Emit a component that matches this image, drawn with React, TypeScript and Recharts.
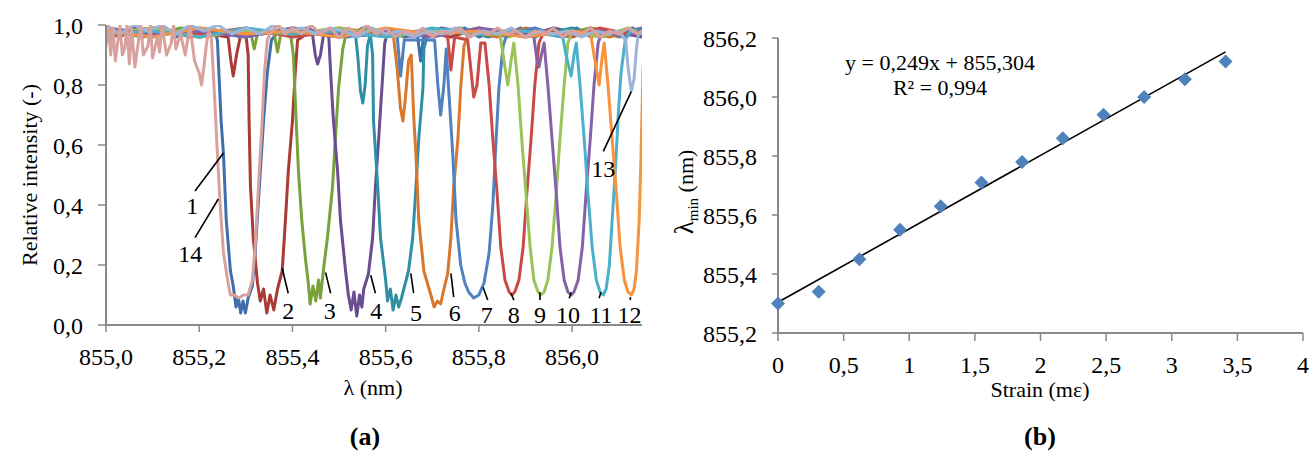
import React from 'react';
import {
  LineChart, Line, XAxis, YAxis, ReferenceLine, ReferenceDot,
  ComposedChart, Scatter,
} from 'recharts';

const FONT = "'Liberation Serif', 'Times New Roman', Times, serif";
const AXIS = '#898989';

// ---- panel (a): spectra, [wavelength nm, relative intensity]
const c1: number[][] = [
  [855.0, 0.98], [855.03, 0.96], [855.06, 0.99], [855.09, 0.97], [855.12, 1.0], [855.15, 0.96], [855.18, 0.98], [855.21, 0.97], [855.232, 0.98],
  [855.239, 0.95], [855.247, 0.68], [855.252, 0.57], [855.258, 0.35], [855.267, 0.18], [855.273, 0.13], [855.279, 0.06], [855.284, 0.09], [855.289, 0.04],
  [855.294, 0.08], [855.299, 0.04], [855.305, 0.09], [855.314, 0.13], [855.32, 0.24], [855.329, 0.46], [855.338, 0.68], [855.346, 0.84], [855.355, 0.95],
  [855.37, 0.98], [855.4, 0.96], [855.43, 0.99], [855.46, 0.97], [855.49, 0.98], [855.52, 0.96], [855.55, 0.99], [855.58, 0.97], [855.61, 0.98],
  [855.64, 0.96], [855.668, 0.97], [855.675, 0.88], [855.682, 0.97], [855.71, 0.98], [855.74, 0.97], [855.77, 0.99], [855.8, 0.96], [855.83, 0.98],
  [855.86, 0.97], [855.89, 0.99], [855.92, 0.96], [855.95, 0.98], [855.98, 0.97], [856.01, 0.99], [856.04, 0.96], [856.07, 0.98], [856.1, 0.97], [856.13, 0.99], [856.15, 0.97],
];
const c2: number[][] = [
  [855.0, 0.99], [855.06, 0.97], [855.12, 0.99], [855.18, 0.96], [855.22, 0.97], [855.262, 0.96], [855.268, 0.88], [855.273, 0.83], [855.28, 0.9],
  [855.288, 0.96], [855.3, 0.97], [855.305, 0.9], [855.307, 0.68], [855.31, 0.46], [855.316, 0.29], [855.325, 0.14], [855.331, 0.08], [855.338, 0.12],
  [855.345, 0.04], [855.352, 0.1], [855.36, 0.05], [855.368, 0.12], [855.378, 0.18], [855.385, 0.35], [855.391, 0.51], [855.4, 0.68], [855.406, 0.84],
  [855.411, 0.95], [855.44, 0.98], [855.5, 0.96], [855.56, 0.99], [855.62, 0.97], [855.68, 0.98], [855.74, 0.96], [855.8, 0.99], [855.86, 0.97],
  [855.92, 0.98], [855.98, 0.96], [856.04, 0.99], [856.1, 0.97], [856.15, 0.98],
];
const c3: number[][] = [
  [855.0, 0.98], [855.08, 0.96], [855.16, 0.99], [855.24, 0.97], [855.31, 0.98], [855.318, 0.92], [855.325, 0.97], [855.36, 0.98], [855.368, 0.91],
  [855.375, 0.97], [855.396, 0.97], [855.402, 0.9], [855.408, 0.68], [855.413, 0.51], [855.42, 0.35], [855.428, 0.22], [855.434, 0.14], [855.438, 0.07],
  [855.444, 0.13], [855.45, 0.08], [855.456, 0.15], [855.46, 0.09], [855.467, 0.19], [855.475, 0.29], [855.486, 0.46], [855.492, 0.62], [855.499, 0.79],
  [855.508, 0.92], [855.515, 0.97], [855.56, 0.99], [855.62, 0.96], [855.68, 0.98], [855.74, 0.97], [855.8, 0.99], [855.86, 0.96], [855.92, 0.98],
  [855.98, 0.97], [856.04, 0.99], [856.1, 0.96], [856.15, 0.98],
];
const c4: number[][] = [
  [855.0, 0.97], [855.1, 0.99], [855.2, 0.96], [855.3, 0.98], [855.4, 0.97], [855.443, 0.97], [855.449, 0.9], [855.454, 0.87], [855.46, 0.9],
  [855.467, 0.97], [855.478, 0.96], [855.482, 0.84], [855.488, 0.68], [855.497, 0.51], [855.503, 0.35], [855.514, 0.18], [855.52, 0.1], [855.526, 0.05],
  [855.532, 0.11], [855.538, 0.03], [855.544, 0.1], [855.549, 0.06], [855.553, 0.12], [855.563, 0.17], [855.572, 0.29], [855.578, 0.46], [855.585, 0.62],
  [855.594, 0.84], [855.598, 0.94], [855.605, 0.98], [855.66, 0.96], [855.72, 0.99], [855.78, 0.97], [855.84, 0.98], [855.9, 0.96], [855.96, 0.99],
  [856.02, 0.97], [856.08, 0.98], [856.15, 0.96],
];
const c5: number[][] = [
  [855.0, 0.99], [855.1, 0.97], [855.2, 0.98], [855.3, 0.96], [855.4, 0.99], [855.5, 0.97], [855.535, 0.97], [855.54, 0.9], [855.546, 0.78],
  [855.551, 0.74], [855.556, 0.8], [855.561, 0.93], [855.567, 0.97], [855.572, 0.9], [855.574, 0.68], [855.583, 0.46], [855.589, 0.29], [855.6, 0.15],
  [855.604, 0.08], [855.61, 0.12], [855.616, 0.05], [855.622, 0.1], [855.628, 0.06], [855.634, 0.09], [855.639, 0.12], [855.649, 0.18], [855.658, 0.29],
  [855.665, 0.46], [855.671, 0.62], [855.68, 0.79], [855.682, 0.92], [855.69, 0.97], [855.76, 0.99], [855.82, 0.96], [855.88, 0.98], [855.94, 0.97],
  [856.0, 0.99], [856.06, 0.96], [856.12, 0.98], [856.15, 0.97],
];
const c6: number[][] = [
  [855.0, 0.97], [855.1, 0.99], [855.2, 0.96], [855.3, 0.98], [855.4, 0.97], [855.5, 0.99], [855.6, 0.97], [855.617, 0.96], [855.625, 0.85],
  [855.632, 0.72], [855.637, 0.68], [855.642, 0.75], [855.649, 0.88], [855.655, 0.9], [855.66, 0.7], [855.665, 0.57], [855.671, 0.35], [855.682, 0.18],
  [855.697, 0.1], [855.704, 0.06], [855.711, 0.08], [855.718, 0.07], [855.725, 0.12], [855.733, 0.17], [855.74, 0.29], [855.746, 0.46], [855.755, 0.62],
  [855.761, 0.79], [855.768, 0.93], [855.78, 0.98], [855.84, 0.96], [855.9, 0.99], [855.96, 0.97], [856.02, 0.98], [856.08, 0.96], [856.15, 0.99],
];
const c7: number[][] = [
  [855.0, 0.98], [855.1, 0.96], [855.2, 0.99], [855.3, 0.97], [855.4, 0.98], [855.5, 0.96], [855.6, 0.97], [855.625, 0.96], [855.632, 0.83],
  [855.64, 0.95], [855.705, 0.95], [855.712, 0.8], [855.718, 0.7], [855.725, 0.8], [855.73, 0.92], [855.735, 0.79], [855.744, 0.57], [855.751, 0.35],
  [855.761, 0.2], [855.77, 0.14], [855.778, 0.11], [855.789, 0.09], [855.8, 0.1], [855.811, 0.14], [855.822, 0.24], [855.83, 0.4], [855.837, 0.62],
  [855.843, 0.79], [855.852, 0.93], [855.86, 0.97], [855.92, 0.99], [855.98, 0.96], [856.04, 0.98], [856.1, 0.97], [856.15, 0.99],
];
const c8: number[][] = [
  [855.0, 0.96], [855.1, 0.98], [855.2, 0.97], [855.3, 0.99], [855.4, 0.96], [855.5, 0.98], [855.6, 0.97], [855.7, 0.98], [855.733, 0.96],
  [855.74, 0.85], [855.748, 0.96], [855.776, 0.95], [855.783, 0.85], [855.789, 0.76], [855.796, 0.8], [855.804, 0.94], [855.813, 0.94], [855.822, 0.8],
  [855.83, 0.62], [855.839, 0.44], [855.847, 0.26], [855.856, 0.15], [855.865, 0.11], [855.871, 0.1], [855.877, 0.11], [855.886, 0.15], [855.895, 0.26],
  [855.903, 0.44], [855.912, 0.62], [855.92, 0.8], [855.929, 0.94], [855.94, 0.98], [856.0, 0.96], [856.06, 0.99], [856.12, 0.97], [856.15, 0.98],
];
const c9: number[][] = [
  [855.0, 0.97], [855.1, 0.99], [855.2, 0.96], [855.3, 0.98], [855.4, 0.97], [855.5, 0.99], [855.6, 0.96], [855.7, 0.98], [855.8, 0.97],
  [855.845, 0.97], [855.852, 0.9], [855.862, 0.8], [855.869, 0.88], [855.875, 0.94], [855.884, 0.8], [855.892, 0.62], [855.901, 0.44], [855.91, 0.26],
  [855.918, 0.15], [855.927, 0.11], [855.933, 0.1], [855.94, 0.11], [855.948, 0.15], [855.957, 0.26], [855.966, 0.44], [855.974, 0.62], [855.983, 0.8],
  [855.991, 0.94], [856.0, 0.98], [856.06, 0.96], [856.12, 0.99], [856.15, 0.97],
];
const c10: number[][] = [
  [855.0, 0.99], [855.1, 0.97], [855.2, 0.98], [855.3, 0.96], [855.4, 0.99], [855.5, 0.97], [855.6, 0.98], [855.7, 0.96], [855.8, 0.99],
  [855.9, 0.97], [855.918, 0.96], [855.925, 0.88], [855.929, 0.86], [855.934, 0.9], [855.94, 0.94], [855.948, 0.8], [855.957, 0.62], [855.966, 0.44],
  [855.974, 0.26], [855.983, 0.15], [855.991, 0.11], [855.998, 0.1], [856.004, 0.11], [856.013, 0.15], [856.022, 0.26], [856.03, 0.44], [856.039, 0.62],
  [856.047, 0.8], [856.056, 0.94], [856.065, 0.98], [856.11, 0.96], [856.15, 0.98],
];
const c11: number[][] = [
  [855.0, 0.97], [855.1, 0.98], [855.2, 0.96], [855.3, 0.99], [855.4, 0.97], [855.5, 0.98], [855.6, 0.96], [855.7, 0.99], [855.8, 0.97],
  [855.9, 0.98], [855.98, 0.96], [855.987, 0.9], [855.998, 0.83], [856.004, 0.9], [856.009, 0.94], [856.017, 0.8], [856.026, 0.62], [856.034, 0.44],
  [856.043, 0.26], [856.052, 0.15], [856.06, 0.11], [856.067, 0.1], [856.073, 0.12], [856.08, 0.2], [856.086, 0.35], [856.093, 0.52], [856.099, 0.7],
  [856.105, 0.84], [856.114, 0.95], [856.125, 0.98], [856.15, 0.97],
];
const c12: number[][] = [
  [855.0, 0.98], [855.1, 0.96], [855.2, 0.99], [855.3, 0.97], [855.4, 0.98], [855.5, 0.96], [855.6, 0.99], [855.7, 0.97], [855.8, 0.98],
  [855.9, 0.96], [856.0, 0.98], [856.04, 0.97], [856.047, 0.9], [856.058, 0.8], [856.065, 0.9], [856.069, 0.94], [856.077, 0.8], [856.086, 0.62],
  [856.095, 0.44], [856.103, 0.26], [856.112, 0.15], [856.12, 0.11], [856.127, 0.1], [856.133, 0.12], [856.138, 0.18], [856.144, 0.35],
  [856.148, 0.57], [856.152, 0.84], [856.155, 0.95],
];
const c13: number[][] = [
  [855.0, 1.0], [855.03, 0.97], [855.06, 1.0], [855.09, 0.98], [855.12, 1.0], [855.15, 0.97], [855.18, 1.0], [855.21, 0.98], [855.24, 1.0],
  [855.27, 0.97], [855.3, 0.99], [855.33, 0.97], [855.36, 1.0], [855.39, 0.98], [855.42, 0.99], [855.45, 0.97], [855.48, 0.99], [855.51, 0.98],
  [855.54, 0.96], [855.57, 0.99], [855.6, 0.97], [855.63, 0.98], [855.66, 0.96], [855.69, 0.98], [855.72, 0.97], [855.75, 0.99], [855.78, 0.96],
  [855.81, 0.98], [855.84, 0.97], [855.87, 0.99], [855.9, 0.96], [855.93, 0.98], [855.96, 0.97], [855.99, 0.98], [856.02, 0.96], [856.05, 0.98],
  [856.08, 0.97], [856.1, 0.98], [856.115, 0.95], [856.12, 0.86], [856.127, 0.78], [856.133, 0.82], [856.138, 0.92], [856.142, 0.97], [856.15, 0.98],
];
const c14: number[][] = [
  [855.0, 0.93], [855.005, 1.0], [855.01, 0.9], [855.015, 0.99], [855.02, 0.88], [855.03, 1.0], [855.035, 0.9], [855.04, 0.92], [855.045, 1.0],
  [855.05, 0.87], [855.055, 0.99], [855.062, 0.86], [855.07, 0.95], [855.075, 1.0], [855.08, 0.9], [855.09, 0.93], [855.095, 1.0], [855.1, 0.89],
  [855.11, 0.96], [855.115, 0.91], [855.12, 1.0], [855.13, 0.9], [855.14, 0.94], [855.145, 1.0], [855.15, 0.92], [855.16, 0.97], [855.17, 0.9],
  [855.18, 1.0], [855.19, 0.88], [855.2, 0.84], [855.205, 0.8], [855.21, 0.86], [855.215, 0.93], [855.22, 0.98], [855.226, 0.96], [855.234, 0.73],
  [855.239, 0.57], [855.245, 0.4], [855.252, 0.24], [855.262, 0.14], [855.267, 0.1], [855.275, 0.1], [855.285, 0.09], [855.295, 0.1], [855.305, 0.1],
  [855.314, 0.15], [855.32, 0.26], [855.327, 0.46], [855.335, 0.68], [855.34, 0.84], [855.346, 0.95], [855.355, 0.98], [855.37, 1.0], [855.385, 0.97],
  [855.4, 0.99], [855.42, 0.97], [855.44, 1.0], [855.46, 0.97], [855.48, 0.99], [855.5, 0.96], [855.52, 0.99], [855.54, 0.97], [855.56, 1.0],
  [855.58, 0.97], [855.6, 0.99], [855.62, 0.96], [855.64, 0.98], [855.66, 0.97], [855.68, 0.99], [855.7, 0.96], [855.72, 0.98], [855.74, 0.97],
  [855.76, 0.99], [855.78, 0.96], [855.8, 0.98], [855.82, 0.97], [855.84, 0.99], [855.86, 0.97], [855.88, 0.98], [855.9, 0.96], [855.92, 0.98],
  [855.94, 0.97], [855.96, 0.99], [855.98, 0.96], [856.0, 0.98], [856.02, 0.97], [856.04, 0.99], [856.06, 0.96], [856.08, 0.98], [856.1, 0.97],
  [856.12, 0.99], [856.14, 0.97], [856.15, 0.98],
];

const spectra = [c1, c2, c3, c4, c5, c6, c7, c8, c9, c10, c11, c12, c13, c14];
const spectraColors = [
  '#3F6EAC', '#A93A35', '#7BA13C', '#6A4C90', '#2F8FA5', '#D9782C',
  '#4F81C0', '#C94B48', '#9BC35A', '#8462A8', '#4BB0CC', '#F7923E',
  '#9DB5D8', '#D9A19D',
];
const lambdaTicks = [855.0, 855.2, 855.4, 855.6, 855.8, 856.0];
const intensityTicks = [0, 0.2, 0.4, 0.6, 0.8, 1.0];

// curve numbers with leader lines (annotation positions in data units)
const curveNames = ['1', '14', '2', '3', '4', '5', '6', '7', '8', '9', '10', '11', '12', '13'];
const leaderFrom = [[855.252, 0.573], [855.241, 0.42], [855.378, 0.189], [855.471, 0.175], [855.568, 0.166], [855.654, 0.172], [855.74, 0.172], [855.809, 0.126], [855.869, 0.106], [855.931, 0.109], [855.998, 0.109], [856.062, 0.109], [856.125, 0.093], [856.127, 0.778]];
const leaderTo = [[855.191, 0.447], [855.191, 0.291], [855.391, 0.106], [855.482, 0.106], [855.578, 0.106], [855.66, 0.106], [855.746, 0.093], [855.819, 0.083], [855.875, 0.083], [855.931, 0.083], [855.994, 0.089], [856.058, 0.089], [856.125, 0.083], [856.067, 0.579]];
const labelAt = [[855.185, 0.397], [855.181, 0.238], [855.391, 0.05], [855.48, 0.05], [855.58, 0.05], [855.665, 0.043], [855.748, 0.043], [855.817, 0.036], [855.875, 0.036], [855.931, 0.036], [855.991, 0.036], [856.062, 0.036], [856.123, 0.036], [856.067, 0.523]];

// ---- panel (b): wavelength of minimum vs strain
const strain = [0, 0.31, 0.62, 0.93, 1.24, 1.55, 1.86, 2.17, 2.48, 2.79, 3.1, 3.41];
const lambdaMin = [855.3, 855.34, 855.45, 855.55, 855.63, 855.71, 855.78, 855.86, 855.94, 856.0, 856.06, 856.12];
const trendX = [0, 3.41];
const trendY = [855.304, 856.153];
const strainTicks = [0, 0.5, 1, 1.5, 2, 2.5, 3, 3.5, 4];
const lambdaMinTicks = [855.2, 855.4, 855.6, 855.8, 856.0, 856.2];

const comma1 = (v: number) => v.toFixed(1).replace('.', ',');
const commaAny = (v: number) => String(v).replace('.', ',');

const tickStyle = { fill: '#000', fontSize: 24, fontFamily: FONT };

const Diamond = (props: any) => {
  const { cx, cy } = props;
  if (cx == null || cy == null) return null;
  return <polygon points={`${cx},${cy - 7} ${cx + 7},${cy} ${cx},${cy + 7} ${cx - 7},${cy}`} fill="#4F81BD" />;
};

const txt = (left: number, top: number, size: number, extra: React.CSSProperties = {}): React.CSSProperties => ({
  position: 'absolute', left, top, transform: 'translate(-50%, -50%)', fontSize: size, fontFamily: FONT,
  lineHeight: 1, whiteSpace: 'nowrap', color: '#000', ...extra,
});

export default function App() {
  const points = strain.map((x, i) => ({ x, y: lambdaMin[i] }));
  const trend = trendX.map((x, i) => ({ x, y: trendY[i] }));

  return (
    <div style={{ position: 'absolute', left: 0, top: 0, width: 1309, height: 454, background: '#fff', fontFamily: FONT, overflow: 'hidden' }}>
      <style>{`svg text, svg tspan { font-family: ${FONT} !important; }`}</style>
      <div style={{ position: 'absolute', left: 0, top: 0 }}>
        <LineChart width={660} height={400} margin={{ top: 25, right: 18, left: 0, bottom: 35 }}>
          <XAxis type="number" dataKey="x" domain={[855, 856.15]} allowDataOverflow ticks={lambdaTicks}
            tickFormatter={comma1} height={40} tickSize={7} tickMargin={16} tick={tickStyle}
            axisLine={{ stroke: AXIS, strokeWidth: 2 }} tickLine={{ stroke: AXIS, strokeWidth: 1.5 }} />
          <YAxis type="number" domain={[0, 1]} allowDataOverflow ticks={intensityTicks} tickFormatter={comma1}
            width={106} tickSize={8} tickMargin={15} tick={tickStyle}
            axisLine={{ stroke: AXIS, strokeWidth: 2 }} tickLine={{ stroke: AXIS, strokeWidth: 1.5 }} />
          {spectra.map((curve, i) => (
            <Line key={i} data={curve.map(([x, y]) => ({ x, y }))} dataKey="y" type="linear"
              stroke={spectraColors[i]} strokeWidth={3} strokeLinejoin="round" dot={false} isAnimationActive={false} />
          ))}
          {curveNames.map((name, i) => (
            <ReferenceLine key={'l' + i} segment={[{ x: leaderFrom[i][0], y: leaderFrom[i][1] }, { x: leaderTo[i][0], y: leaderTo[i][1] }]}
              stroke="#000" strokeWidth={1.6} ifOverflow="visible" />
          ))}
          {curveNames.map((name, i) => (
            <ReferenceDot key={'d' + i} x={labelAt[i][0]} y={labelAt[i][1]} r={1} fill="none" stroke="none" ifOverflow="visible"
              label={{ value: name, position: 'center', fill: '#000', fontSize: 24, fontFamily: FONT }} />
          ))}
        </LineChart>
      </div>

      <div style={{ position: 'absolute', left: 660, top: 0 }}>
        <ComposedChart width={649} height={400} margin={{ top: 38, right: 6, left: 0, bottom: 27 }}>
          <XAxis type="number" dataKey="x" domain={[0, 4]} ticks={strainTicks} tickFormatter={commaAny}
            height={40} tickSize={8} tickMargin={15} tick={tickStyle}
            axisLine={{ stroke: AXIS, strokeWidth: 2 }} tickLine={{ stroke: AXIS, strokeWidth: 1.5 }} />
          <YAxis type="number" dataKey="y" domain={[855.2, 856.2]} ticks={lambdaMinTicks} tickFormatter={comma1}
            width={118} tickSize={6} tickMargin={15} tick={tickStyle}
            axisLine={{ stroke: AXIS, strokeWidth: 2 }} tickLine={{ stroke: AXIS, strokeWidth: 1.5 }} />
          <Line data={trend} dataKey="y" type="linear" stroke="#000" strokeWidth={1.6} dot={false} isAnimationActive={false} />
          <Scatter data={points} dataKey="y" fill="#4F81BD" shape={Diamond} isAnimationActive={false} />
        </ComposedChart>
      </div>

      <div style={txt(30, 175, 22, { transform: 'translate(-50%, -50%) rotate(-90deg)' })}>Relative intensity (-)</div>
      <div style={txt(373, 388, 22)}>λ (nm)</div>
      <div style={txt(684, 192, 22, { transform: 'translate(-50%, -50%) rotate(-90deg)' })}>
        <span style={{ fontSize: 27 }}>λ</span><span style={{ fontSize: 15, position: 'relative', top: 5 }}>min</span> (nm)
      </div>
      <div style={txt(1040, 390, 22)}>Strain (mε)</div>
      <div style={txt(940, 63, 22)}>y = 0,249x + 855,304</div>
      <div style={txt(940, 88, 22)}>R² = 0,994</div>
      <div style={txt(365, 437, 26, { fontWeight: 'bold' })}>(a)</div>
      <div style={txt(1040, 437, 26, { fontWeight: 'bold' })}>(b)</div>
    </div>
  );
}
